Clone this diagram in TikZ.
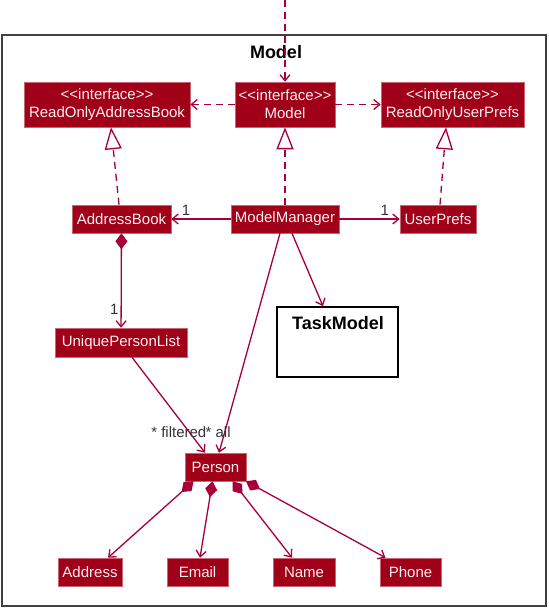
\documentclass[tikz,border=0pt]{standalone}
\usepackage{fontspec}
\setmainfont{Liberation Sans}
\usepackage{xcolor}
\usepackage{tikz}
\usetikzlibrary{arrows.meta}

\definecolor{umlred}{HTML}{A80036}
\definecolor{umlfill}{HTML}{A00018}

\begin{document}
\begin{tikzpicture}[
    x=1pt, y=-1pt,
    font=\fontsize{15}{18}\selectfont,
    cls/.style={fill=umlfill, draw=umlfill!60!white, line width=0.6pt, text=white!94!red, inner sep=0pt, minimum height=28pt, align=center},
    iface/.style={cls, minimum height=45pt},
    link/.style={draw=umlred, line width=1.3pt},
    dep/.style={link, dash pattern=on 7pt off 5pt},
    barb/.style={-{Straight Barb[length=6pt,width=10pt]}},
    realize/.style={dep, -{Triangle[open, length=22pt, width=17pt]}},
    comp/.style={link, {Diamond[length=16pt,width=12pt]}-{Straight Barb[length=6pt,width=10pt]}},
    mult/.style={text=black!80, inner sep=1pt}
]
    \useasboundingbox (0,0) rectangle (548,609);

    % Package frame
    \node[draw=black!75, line width=2pt, minimum width=544pt, minimum height=571pt, inner sep=0pt] (pkg) at (274,320.5) {};
    \node[font=\bfseries\fontsize{18}{20}\selectfont] (pkgtitle) at (276,52) {Model};
    \coordinate (outside) at (285,0);

    % Interfaces
    \node[iface, minimum width=166pt] (roab) at (107,104.5) {<\kern0pt<interface>\kern0pt>\\ReadOnlyAddressBook};
    \node[iface, minimum width=100pt] (model) at (285,104.5) {<\kern0pt<interface>\kern0pt>\\Model};
    \node[iface, minimum width=143pt] (roup) at (452.5,104.5) {<\kern0pt<interface>\kern0pt>\\ReadOnlyUserPrefs};

    % Classes
    \node[cls, minimum width=99pt] (addressbook) at (121.5,219) {AddressBook};
    \node[cls, minimum width=108pt] (modelmanager) at (285,219) {ModelManager};
    \node[cls, minimum width=76pt] (userprefs) at (438,219) {UserPrefs};
    \node[cls, minimum width=132pt, minimum height=29pt] (upl) at (121,342.5) {UniquePersonList};
    \node[cls, minimum width=61pt] (person) at (215.5,467) {Person};

    \node[cls, minimum width=64pt] (address) at (90,572) {Address};
    \node[cls, minimum width=61pt] (email) at (197.5,572) {Email};
    \node[cls, minimum width=62pt] (name) at (304,572) {Name};
    \node[cls, minimum width=61pt] (phone) at (410.5,572) {Phone};

    % Nested package
    \node[draw=black, line width=1.5pt, fill=white, minimum width=121pt, minimum height=70pt, inner sep=0pt] (taskmodel) at (337.5,342) {};
    \node[font=\bfseries\fontsize{18}{20}\selectfont] (tasktitle) at (338,323) {TaskModel};

    % Dependencies
    \draw[dep, barb] (outside) -- (model);
    \draw[dep, barb] (model) -- (roab);
    \draw[dep, barb] (model) -- (roup);

    % Realizations
    \draw[realize] ([xshift=-2.5pt]addressbook.north) -- ([xshift=4pt]roab.south);
    \draw[realize] (modelmanager) -- (model);
    \draw[realize] ([xshift=2pt]userprefs.north) -- ([xshift=-6.5pt]roup.south);

    % Associations
    \draw[link, barb] (modelmanager) -- (addressbook)
        node[pos=1, anchor=south west, mult, xshift=9pt, yshift=2pt] {1};
    \draw[link, barb] (modelmanager) -- (userprefs)
        node[pos=1, anchor=south east, mult, xshift=-9pt, yshift=2pt] {1};
    \draw[comp] (addressbook) -- (upl)
        node[pos=1, anchor=south east, mult, xshift=-1pt, yshift=12pt] {1};
    \draw[link, barb] ([xshift=7pt]modelmanager.south) -- ([xshift=-14.5pt]taskmodel.north);
    \draw[link, barb] ([xshift=11pt]upl.south) -- ([xshift=-10.5pt]person.north)
        node[pos=1, anchor=base east, mult, xshift=3pt, yshift=15pt] {* filtered};
    \draw[link, barb] ([xshift=-5pt]modelmanager.south) -- ([xshift=3.5pt]person.north)
        node[pos=1, anchor=base west, mult, xshift=-15pt, yshift=15pt] {* all};

    % Compositions
    \draw[comp] ([xshift=-22pt]person.south) -- ([xshift=18pt]address.north);
    \draw[comp] ([xshift=-3pt]person.south) -- ([xshift=2.5pt]email.north);
    \draw[comp] ([xshift=17pt]person.south) -- ([xshift=-12pt]name.north);
    \draw[comp] ([xshift=30.5pt]person.south) -- ([xshift=-25pt]phone.north);
\end{tikzpicture}
\end{document}
